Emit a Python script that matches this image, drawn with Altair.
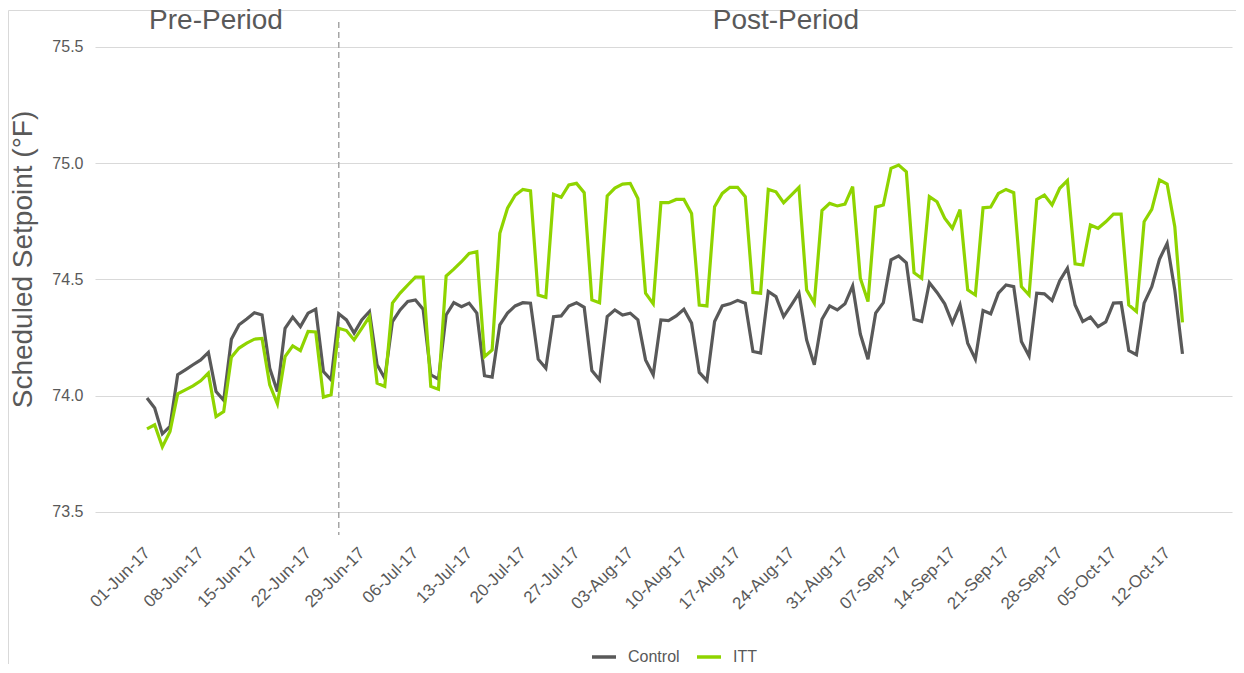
import altair as alt
import pandas as pd

# ---- data (daily, 01-Jun-17 .. 14-Oct-17) ----
start_date = "2017-06-01"
control = [
    73.99, 73.947, 73.836, 73.868, 74.09, 74.111, 74.133, 74.154, 74.186, 74.018,
    73.98, 74.243, 74.305, 74.33, 74.357, 74.347, 74.118, 74.018, 74.29, 74.338,
    74.297, 74.355, 74.372, 74.104, 74.068, 74.352, 74.326, 74.269, 74.326, 74.362,
    74.133, 74.075, 74.319, 74.369, 74.405, 74.412, 74.372, 74.09, 74.071, 74.347,
    74.40, 74.383, 74.398, 74.355, 74.086, 74.08, 74.305, 74.355, 74.386, 74.40,
    74.398, 74.157, 74.118, 74.34, 74.343, 74.386, 74.40, 74.38, 74.108, 74.068,
    74.34, 74.369, 74.347, 74.355, 74.326, 74.154, 74.09, 74.326, 74.323, 74.343,
    74.372, 74.312, 74.10, 74.065, 74.319, 74.386, 74.395, 74.41, 74.398, 74.19,
    74.183, 74.448, 74.426, 74.34, 74.39, 74.441, 74.24, 74.133, 74.329, 74.386,
    74.369, 74.395, 74.472, 74.265, 74.157, 74.355, 74.40, 74.584, 74.601, 74.572,
    74.329, 74.319, 74.486, 74.444, 74.395, 74.312, 74.39, 74.226, 74.157, 74.366,
    74.352, 74.441, 74.476, 74.469, 74.233, 74.171, 74.441, 74.438, 74.409, 74.495,
    74.548, 74.39, 74.319, 74.338, 74.297, 74.317, 74.398, 74.40, 74.194, 74.176,
    74.398, 74.469, 74.587, 74.655, 74.455, 74.18,
]
itt = [
    73.857, 73.875, 73.78, 73.846, 74.008, 74.025, 74.042, 74.064, 74.097, 73.91,
    73.932, 74.166, 74.205, 74.226, 74.243, 74.246, 74.047, 73.965, 74.168, 74.214,
    74.194, 74.276, 74.274, 73.994, 74.004, 74.29, 74.28, 74.24, 74.29, 74.34,
    74.054, 74.04, 74.398, 74.441, 74.476, 74.51, 74.51, 74.04, 74.028, 74.515,
    74.544, 74.576, 74.612, 74.619, 74.168, 74.197, 74.698, 74.806, 74.862, 74.887,
    74.881, 74.433, 74.423, 74.866, 74.853, 74.906, 74.913, 74.873, 74.412, 74.40,
    74.859, 74.893, 74.91, 74.913, 74.848, 74.441, 74.395, 74.83, 74.83, 74.844,
    74.844, 74.784, 74.39, 74.386, 74.813, 74.87, 74.896, 74.896, 74.856, 74.444,
    74.441, 74.887, 74.877, 74.83, 74.863, 74.896, 74.455, 74.398, 74.796, 74.827,
    74.816, 74.824, 74.899, 74.505, 74.405, 74.811, 74.82, 74.978, 74.992, 74.963,
    74.529, 74.505, 74.856, 74.834, 74.763, 74.72, 74.80, 74.455, 74.433, 74.808,
    74.811, 74.87, 74.887, 74.873, 74.469, 74.433, 74.844, 74.863, 74.82, 74.892,
    74.925, 74.567, 74.562, 74.734, 74.72, 74.748, 74.781, 74.781, 74.39, 74.362,
    74.748, 74.801, 74.928, 74.91, 74.727, 74.315,
]
series_names = ["Control", "ITT"]
series_colors = ["#595959", "#8FD400"]
y_ticks = [73.5, 74.0, 74.5, 75.0, 75.5]
x_tick_start, x_tick_end = "2017-06-01", "2017-10-12"
divider_date = "2017-06-26"
period_labels = ["Pre-Period", "Post-Period"]
period_label_dates = ["2017-06-10T00:00:00", "2017-08-23T07:00:00"]

n = len(control)
dates = pd.date_range(start_date, periods=n, freq="D")
df = pd.DataFrame({
    "date": list(dates) * 2,
    "value": control + itt,
    "series": [series_names[0]] * n + [series_names[1]] * n,
})
df_div = pd.DataFrame({"date": [pd.Timestamp(divider_date)]})
df_lab = pd.DataFrame({"date": [pd.Timestamp(s) for s in period_label_dates],
                       "label": period_labels})

W, H = 1137, 513
FONT = "Liberation Sans"
GREY = "#595959"

tick_dates = pd.date_range(x_tick_start, x_tick_end, freq="7D")
x_ticks = [alt.DateTime(year=int(d.year), month=int(d.month), date=int(d.day)) for d in tick_dates]

x_scale = alt.Scale(domain=[
    alt.DateTime(year=2017, month=5, date=25, hours=5, minutes=17),
    alt.DateTime(year=2017, month=10, date=20, hours=11),
])
y_scale = alt.Scale(domain=[73.401, 75.607], nice=False, zero=False)

x_axis = alt.Axis(
    values=x_ticks, format="%d-%b-%y", labelAngle=-45, labelAlign="right",
    labelBaseline="middle", labelFontSize=17, labelColor=GREY, labelFont=FONT,
    domain=False, ticks=False, grid=False, labelPadding=15, title=None,
    labelOverlap=False, labelFlush=False,
)
y_axis = alt.Axis(
    values=y_ticks, format=".1f", labelFontSize=16, labelColor=GREY, labelFont=FONT,
    domain=False, ticks=False, gridColor="#d9d9d9", gridWidth=1, labelPadding=12,
    title="Scheduled Setpoint (°F)", titleFontSize=28, titleColor=GREY, titleFont=FONT,
    titleFontWeight="normal", titleAngle=270, titleX=-72, titleY=237,
    titleAlign="center", titleBaseline="middle",
)

border = alt.Chart(alt.Data(values=[{}])).mark_rect(
    fillOpacity=0, stroke="#d9d9d9", strokeWidth=1
).encode(
    x=alt.value(-86.5), x2=alt.value(1200), y=alt.value(-11.5), y2=alt.value(700)
)

lines = alt.Chart(df).mark_line(strokeWidth=3.2).encode(
    x=alt.X("date:T", scale=x_scale, axis=x_axis),
    y=alt.Y("value:Q", scale=y_scale, axis=y_axis),
    color=alt.Color(
        "series:N",
        scale=alt.Scale(domain=series_names, range=series_colors),
        legend=alt.Legend(
            orient="none", legendX=495, legendY=621, direction="horizontal",
            title=None, symbolType="stroke", symbolStrokeWidth=3.5, symbolSize=576,
            labelFontSize=16, labelColor=GREY, labelFont=FONT, labelOffset=10,
            columnPadding=10,
        ),
    ),
    order=alt.Order("date:T"),
)

divider = alt.Chart(df_div).mark_rule(
    strokeDash=[6, 4], color="#a6a6a6", strokeWidth=1.5
).encode(
    x=alt.X("date:T", scale=x_scale),
    y=alt.value(0), y2=alt.value(H),
)

labels = alt.Chart(df_lab).mark_text(
    fontSize=28, color=GREY, font=FONT, baseline="alphabetic", align="center"
).encode(
    x=alt.X("date:T", scale=x_scale),
    y=alt.value(7),
    text="label:N",
)

chart = alt.layer(border, divider, lines, labels).properties(
    width=W, height=H,
    autosize=alt.AutoSizeParams(type="none"),
    padding={"left": 87, "top": 14, "right": 4, "bottom": 129},
).configure(font=FONT, background="white").configure_view(strokeWidth=0)

chart.save("out.html", embed_options={"renderer": "svg", "actions": False})
